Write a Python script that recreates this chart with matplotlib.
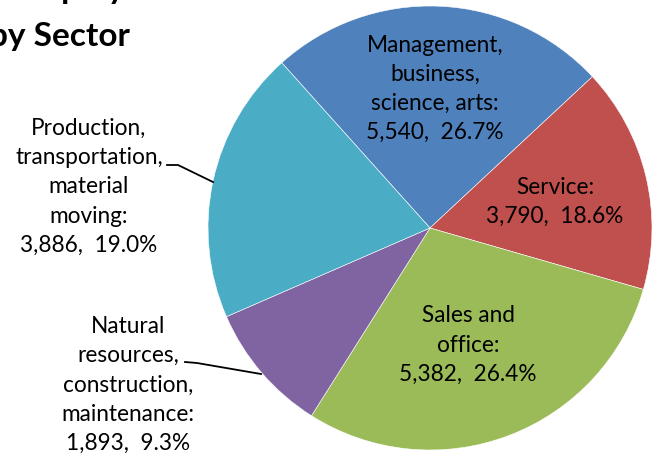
import matplotlib
matplotlib.use("Agg")
import matplotlib.pyplot as plt

# sector data (labels as printed on the chart)
sectors = [
    "Management,\nbusiness,\nscience, arts:",
    "Service:",
    "Sales and\noffice:",
    "Natural\nresources,\nconstruction,\nmaintenance:",
    "Production,\ntransportation,\nmaterial\nmoving:",
]
workers = ["5,540", "3,790", "5,382", "1,893", "3,886"]
pct_labels = ["26.7%", "18.6%", "26.4%", "9.3%", "19.0%"]
# slice sizes as drawn (percent of circle)
shares = [24.7, 16.4, 29.5, 9.5, 19.9]
colors = ["#4F81BD", "#C0504D", "#9BBB59", "#8064A2", "#4BACC6"]

W, H = 657, 458
CX, CY, R = 430, 228, 222  # pie centre / radius in pixels


def to_data(px, py):
    return (px - CX) / R, (CY - py) / R


plt.rcParams["font.family"] = ["Lato", "DejaVu Sans"]
fig = plt.figure(figsize=(W / 100, H / 100), dpi=100)
ax = fig.add_axes([(CX - R) / W, (H - CY - R) / H, 2 * R / W, 2 * R / H])
ax.pie(shares, colors=colors, startangle=131.9, counterclock=False,
       wedgeprops=dict(edgecolor="white", linewidth=0.4))
ax.set_xlim(-1, 1)
ax.set_ylim(-1, 1)
ax.set_aspect("equal")
ax.axis("off")

# label anchor points in pixels
label_pos = [(435, 89), (555, 202), (468, 345), (128, 385), (89, 187)]
for name, n, p, (px, py) in zip(sectors, workers, pct_labels, label_pos):
    x, y = to_data(px, py)
    ax.text(x, y, f"{name}\n{n},  {p}", ha="center", va="center",
            fontsize=16.3, linespacing=1.48, color="black")

# leader lines for outside labels
for pts in [[(167, 165), (178, 165), (213, 182)],
            [(185, 362), (197, 363), (261, 374)]]:
    xs, ys = zip(*[to_data(*q) for q in pts])
    ax.plot(xs, ys, color="black", lw=1.3, clip_on=False)

# title, cropped at the top-left corner
fig.text(-11 / W, 1 - 46 / H, "by Sector", fontsize=24, fontweight="bold",
         ha="left", va="baseline")
fig.text(14 / W, 1 + 1 / H, "Employment", fontsize=24, fontweight="bold",
         ha="left", va="baseline")

fig.savefig("out.png", dpi=100)
